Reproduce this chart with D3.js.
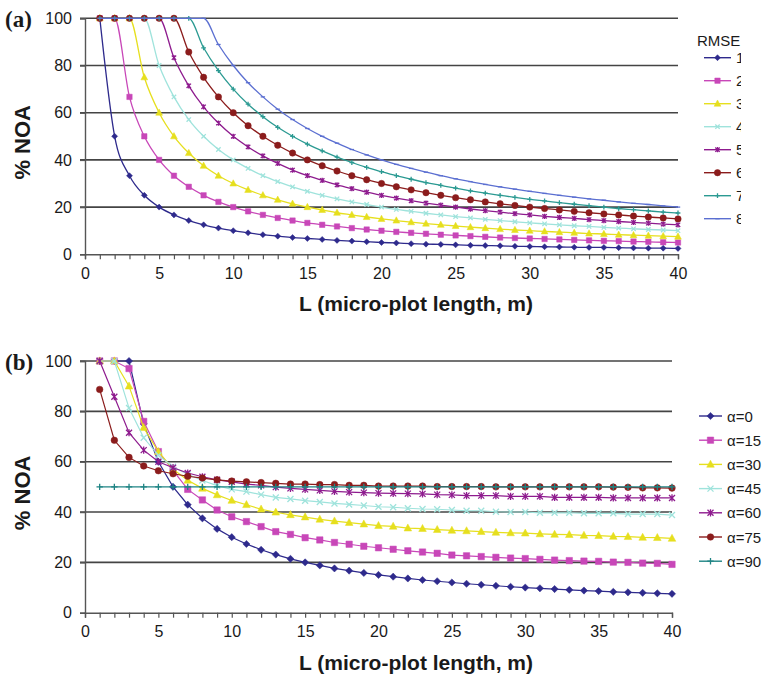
<!DOCTYPE html>
<html>
<head>
<meta charset="utf-8">
<script src="https://cdn.jsdelivr.net/npm/d3@7"></script>
<style>
  body { margin: 0; background: #fff; }
  svg { display: block; }
  text { font-family: "Liberation Sans", Arial, sans-serif; fill: #1a1a1a; }
</style>
</head>
<body>
<svg id="chart" width="768" height="676"></svg>
<script>
// micro-plot length L (m)
const lengths = [1, 2, 3, 4, 5, 6, 7, 8, 9, 10, 11, 12, 13, 14, 15, 16, 17, 18, 19, 20,
  21, 22, 23, 24, 25, 26, 27, 28, 29, 30, 31, 32, 33, 34, 35, 36, 37, 38, 39, 40];

const xTicks = [0, 5, 10, 15, 20, 25, 30, 35, 40];
const yTicks = [0, 20, 40, 60, 80, 100];

// panel (a): % NOA by RMSE
const rmseNames = ["1", "2", "3", "4", "5", "6", "7", "8"];
const rmse1 = [100, 50, 33.3, 25, 20, 16.7, 14.3, 12.5, 11.1, 10, 9.1, 8.3, 7.7, 7.1, 6.7, 6.3, 5.9, 5.6, 5.3, 5,
  4.8, 4.5, 4.3, 4.2, 4, 3.8, 3.7, 3.6, 3.4, 3.3, 3.2, 3.1, 3, 2.9, 2.9, 2.8, 2.7, 2.6, 2.6, 2.5];
const rmse2 = [100, 100, 66.7, 50, 40, 33.3, 28.6, 25, 22.2, 20, 18.2, 16.7, 15.4, 14.3, 13.3, 12.5, 11.8, 11.1, 10.5, 10,
  9.5, 9.1, 8.7, 8.3, 8, 7.7, 7.4, 7.1, 6.9, 6.7, 6.5, 6.3, 6.1, 5.9, 5.7, 5.6, 5.4, 5.3, 5.1, 5];
const rmse3 = [100, 100, 100, 75, 60, 50, 42.9, 37.5, 33.3, 30, 27.3, 25, 23.1, 21.4, 20, 18.8, 17.6, 16.7, 15.8, 15,
  14.3, 13.6, 13, 12.5, 12, 11.5, 11.1, 10.7, 10.3, 10, 9.7, 9.4, 9.1, 8.8, 8.6, 8.3, 8.1, 7.9, 7.7, 7.5];
const rmse4 = [100, 100, 100, 100, 80, 66.7, 57.1, 50, 44.4, 40, 36.4, 33.3, 30.8, 28.6, 26.7, 25, 23.5, 22.2, 21.1, 20,
  19, 18.2, 17.4, 16.7, 16, 15.4, 14.8, 14.3, 13.8, 13.3, 12.9, 12.5, 12.1, 11.8, 11.4, 11.1, 10.8, 10.5, 10.3, 10];
const rmse5 = [100, 100, 100, 100, 100, 83.3, 71.4, 62.5, 55.6, 50, 45.5, 41.7, 38.5, 35.7, 33.3, 31.3, 29.4, 27.8, 26.3, 25,
  23.8, 22.7, 21.7, 20.8, 20, 19.2, 18.5, 17.9, 17.2, 16.7, 16.1, 15.6, 15.2, 14.7, 14.3, 13.9, 13.5, 13.2, 12.8, 12.5];
const rmse6 = [100, 100, 100, 100, 100, 100, 85.7, 75, 66.7, 60, 54.5, 50, 46.2, 42.9, 40, 37.5, 35.3, 33.3, 31.6, 30,
  28.6, 27.3, 26.1, 25, 24, 23.1, 22.2, 21.4, 20.7, 20, 19.4, 18.8, 18.2, 17.6, 17.1, 16.7, 16.2, 15.8, 15.4, 15];
const rmse7 = [100, 100, 100, 100, 100, 100, 100, 87.5, 77.8, 70, 63.6, 58.3, 53.8, 50, 46.7, 43.8, 41.2, 38.9, 36.8, 35,
  33.3, 31.8, 30.4, 29.2, 28, 26.9, 25.9, 25, 24.1, 23.3, 22.6, 21.9, 21.2, 20.6, 20, 19.4, 18.9, 18.4, 17.9, 17.5];
const rmse8 = [100, 100, 100, 100, 100, 100, 100, 100, 88.9, 80, 72.7, 66.7, 61.5, 57.1, 53.3, 50, 47.1, 44.4, 42.1, 40,
  38.1, 36.4, 34.8, 33.3, 32, 30.8, 29.6, 28.6, 27.6, 26.7, 25.8, 25, 24.2, 23.5, 22.9, 22.2, 21.6, 21.1, 20.5, 20];

// panel (b): % NOA by alpha
const alphaNames = ["α=0", "α=15", "α=30", "α=45", "α=60", "α=75", "α=90"];
const alpha0 = [100, 100, 100, 75, 60, 50, 42.9, 37.5, 33.3, 30, 27.3, 25, 23.1, 21.4, 20, 18.8, 17.6, 16.7, 15.8, 15,
  14.3, 13.6, 13, 12.5, 12, 11.5, 11.1, 10.7, 10.3, 10, 9.7, 9.4, 9.1, 8.8, 8.6, 8.3, 8.1, 7.9, 7.7, 7.5];
const alpha15 = [100, 100, 97, 76, 64, 56.5, 49, 44.8, 40.8, 38.1, 36.2, 34.2, 32.2, 31.1, 29.8, 28.9, 27.9, 27.2, 26.4, 25.8,
  25.2, 24.6, 24.1, 23.6, 22.9, 22.6, 22.3, 22, 21.7, 21.5, 21.2, 20.9, 20.7, 20.5, 20.4, 20.1, 20, 19.7, 19.6, 19.2];
const alpha30 = [100, 100, 90, 73.5, 64, 57, 52.6, 49.4, 46.8, 44.6, 42.9, 41.1, 39.9, 38.9, 38, 37.1, 36.4, 35.8, 35.2, 34.6,
  34.3, 33.6, 33.4, 33, 32.7, 32.5, 32.2, 31.9, 31.7, 31.6, 31.3, 31.1, 31, 30.7, 30.6, 30.3, 30.2, 29.9, 29.8, 29.5];
const alpha45 = [100, 100, 81.3, 69.5, 62.5, 58, 55, 52.5, 50.5, 49, 48.1, 46.9, 45.8, 45.2, 44.5, 44, 43.4, 43, 42.6, 42.1,
  41.9, 41.5, 41.2, 41.1, 40.8, 40.5, 40.5, 40.1, 40, 40, 39.7, 39.7, 39.7, 39.5, 39.5, 39.5, 39.2, 39.2, 39.2, 38.8];
const alpha60 = [100, 85.8, 71.5, 64.6, 60, 57.6, 55.5, 54, 52.8, 52, 51.1, 50.6, 49.9, 49.4, 49, 48.6, 48.2, 47.9, 47.7, 47.5,
  47.4, 47.3, 47.2, 46.9, 46.8, 46.5, 46.5, 46.5, 46.2, 46.2, 46.2, 45.8, 45.8, 45.8, 45.8, 45.6, 45.6, 45.6, 45.6, 45.6];
const alpha75 = [88.7, 68.5, 61.7, 58.3, 56.4, 55.2, 54.2, 53.5, 52.8, 52.3, 52, 51.7, 51.4, 51.1, 51.1, 50.9, 50.9, 50.6, 50.6, 50.3,
  50.3, 50.3, 50.3, 50.1, 50.1, 50.1, 50.1, 50, 50, 50, 50, 50, 50, 50, 50, 49.9, 49.8, 49.6, 49.6, 49.5];
const alpha90 = [50, 50, 50, 50, 50, 50, 50, 50, 50, 50, 50, 50, 50, 50, 50, 50, 50, 50, 50, 50,
  50, 50, 50, 50, 50, 50, 50, 50, 50, 50, 50, 50, 50, 50, 50, 50, 50, 50, 50, 50];

const svg = d3.select('svg#chart');

// marker paths centred on 0,0
function markerPath(type, s) {
  switch (type) {
    case 'diamond': return `M0,${-s}L${s},0L0,${s}L${-s},0Z`;
    case 'square': return `M${-s},${-s}H${s}V${s}H${-s}Z`;
    case 'triangle': return `M0,${-s * 1.1}L${s},${s * 0.75}L${-s},${s * 0.75}Z`;
    case 'x': return `M${-s},${-s}L${s},${s}M${-s},${s}L${s},${-s}`;
    case 'star': return `M${-s},${-s}L${s},${s}M${-s},${s}L${s},${-s}M0,${-s * 1.2}L0,${s * 1.2}`;
    case 'plus': return `M${-s},0H${s}M0,${-s}V${s}`;
    case 'dash': return `M${-s},0H${s}`;
    case 'circle': return d3.symbol(d3.symbolCircle, Math.PI * s * s)();
  }
}
const filledMarkers = ['diamond', 'square', 'triangle', 'circle'];

function drawPanel(p) {
  const x = d3.scaleLinear().domain([0, 40]).range([p.left, p.right]);
  const y = d3.scaleLinear().domain([0, 100]).range([p.bottom, p.top]);
  const g = svg.append('g');

  // gridlines
  g.selectAll('line.grid').data(yTicks.filter(d => d > 0)).enter().append('line')
    .attr('x1', p.left - 5).attr('x2', p.right)
    .attr('y1', d => y(d)).attr('y2', d => y(d))
    .attr('stroke', '#444').attr('stroke-width', 1.6);

  // y axis
  const yAxis = g.append('g').attr('transform', `translate(${p.left},0)`)
    .call(d3.axisLeft(y).tickValues(yTicks).tickSize(5).tickPadding(8));
  yAxis.select('.domain').attr('stroke', '#555').attr('stroke-width', 1.4);
  yAxis.selectAll('.tick line').attr('stroke', '#555').attr('stroke-width', 1.4);
  yAxis.selectAll('text').style('font-size', '16px').attr('fill', '#1a1a1a');

  // x axis: ticks every metre, labels every 5
  const xAxis = g.append('g').attr('transform', `translate(0,${p.bottom})`)
    .call(d3.axisBottom(x).tickValues([0].concat(lengths)).tickSize(5).tickPadding(8)
      .tickFormat(d => xTicks.includes(d) ? d : ''));
  xAxis.select('.domain').attr('stroke', '#555').attr('stroke-width', 1.4);
  xAxis.selectAll('.tick line').attr('stroke', '#555').attr('stroke-width', 1.2);
  xAxis.selectAll('text').style('font-size', '16px').attr('fill', '#1a1a1a');

  // titles
  g.append('text').attr('x', 5).attr('y', p.top + 9)
    .style('font-family', '"Liberation Serif", "Times New Roman", serif')
    .style('font-weight', 'bold').style('font-size', '23px').text(p.label);
  g.append('text')
    .attr('transform', `translate(30,${(p.top + p.bottom) / 2 + 6}) rotate(-90)`)
    .attr('text-anchor', 'middle')
    .style('font-weight', 'bold').style('font-size', '22px').text('% NOA');
  g.append('text').attr('x', 416).attr('y', p.bottom + 57)
    .attr('text-anchor', 'middle')
    .style('font-weight', 'bold').style('font-size', '21px').text('L (micro-plot length, m)');

  // series
  const line = d3.line().x((d, i) => x(lengths[i])).y(d => y(d)).curve(p.curve);
  p.series.forEach((s, k) => {
    const sg = g.append('g');
    sg.append('path').attr('d', line(s.values)).attr('fill', 'none')
      .attr('stroke', s.color).attr('stroke-width', p.lineWidth);
    sg.selectAll('path.m').data(s.values).enter().append('path')
      .attr('transform', (d, i) => `translate(${x(lengths[i])},${y(d)})`)
      .attr('d', markerPath(s.marker, p.markerSize[s.marker]))
      .attr('fill', filledMarkers.includes(s.marker) ? s.color : 'none')
      .attr('stroke', s.color).attr('stroke-width', filledMarkers.includes(s.marker) ? 0.5 : 1.3);
  });

  // legend
  const lg = g.append('g').attr('clip-path', p.legendClip ? `url(#${p.legendClip})` : null);
  if (p.legendTitle) {
    lg.append('text').attr('x', p.legendX - 7).attr('y', p.legendY - 12)
      .style('font-size', '15px').text(p.legendTitle);
  }
  p.series.forEach((s, k) => {
    const ly = p.legendY + k * p.legendStep;
    lg.append('line').attr('x1', p.legendX).attr('x2', p.legendX + p.legendLine)
      .attr('y1', ly).attr('y2', ly).attr('stroke', s.color).attr('stroke-width', 1.4);
    lg.append('path').attr('transform', `translate(${p.legendX + p.legendLine / 2},${ly})`)
      .attr('d', markerPath(s.marker, p.markerSize[s.marker]))
      .attr('fill', filledMarkers.includes(s.marker) ? s.color : 'none')
      .attr('stroke', s.color).attr('stroke-width', filledMarkers.includes(s.marker) ? 0.5 : 1.3);
    lg.append('text').attr('x', p.legendX + p.legendLine + 5).attr('y', ly + 5.5)
      .style('font-size', p.legendFont).text(s.name);
  });
}

svg.append('defs').append('clipPath').attr('id', 'clipA')
  .append('rect').attr('x', 600).attr('y', 0).attr('width', 141).attr('height', 300);

const rmseValues = [rmse1, rmse2, rmse3, rmse4, rmse5, rmse6, rmse7, rmse8];
const rmseColors = ['#2e2a8c', '#c847b8', '#e6df1e', '#9fe3dc', '#8e1b8e', '#8b1c1c', '#2b9a92', '#5b6fd1'];
const rmseMarkers = ['diamond', 'square', 'triangle', 'x', 'star', 'circle', 'plus', 'dash'];

drawPanel({
  label: '(a)', left: 85, right: 678, top: 18.3, bottom: 254.3,
  curve: d3.curveMonotoneX, lineWidth: 1.3,
  markerSize: { diamond: 3, square: 2.7, triangle: 3.4, x: 2.2, star: 2.2, circle: 3.2, plus: 2.4, dash: 2.2 },
  series: rmseNames.map((n, i) => ({ name: n, values: rmseValues[i], color: rmseColors[i], marker: rmseMarkers[i] })),
  legendTitle: 'RMSE', legendX: 704, legendY: 57.7, legendStep: 23, legendLine: 27,
  legendFont: '15px', legendClip: 'clipA'
});

const alphaValues = [alpha0, alpha15, alpha30, alpha45, alpha60, alpha75, alpha90];
const alphaColors = ['#2e2a8c', '#c847b8', '#e6df1e', '#9fe3dc', '#8e1b8e', '#8b1c1c', '#1f8484'];
const alphaMarkers = ['diamond', 'square', 'triangle', 'x', 'star', 'circle', 'plus'];

drawPanel({
  label: '(b)', left: 85, right: 672, top: 361, bottom: 612.7,
  curve: d3.curveLinear, lineWidth: 1.2,
  markerSize: { diamond: 3.6, square: 3.2, triangle: 3.8, x: 3, star: 3, circle: 3.3, plus: 3.2 },
  series: alphaNames.map((n, i) => ({ name: n, values: alphaValues[i], color: alphaColors[i], marker: alphaMarkers[i] })),
  legendTitle: null, legendX: 699, legendY: 416, legendStep: 24.2, legendLine: 23,
  legendFont: '15px', legendClip: null
});
</script>
</body>
</html>
